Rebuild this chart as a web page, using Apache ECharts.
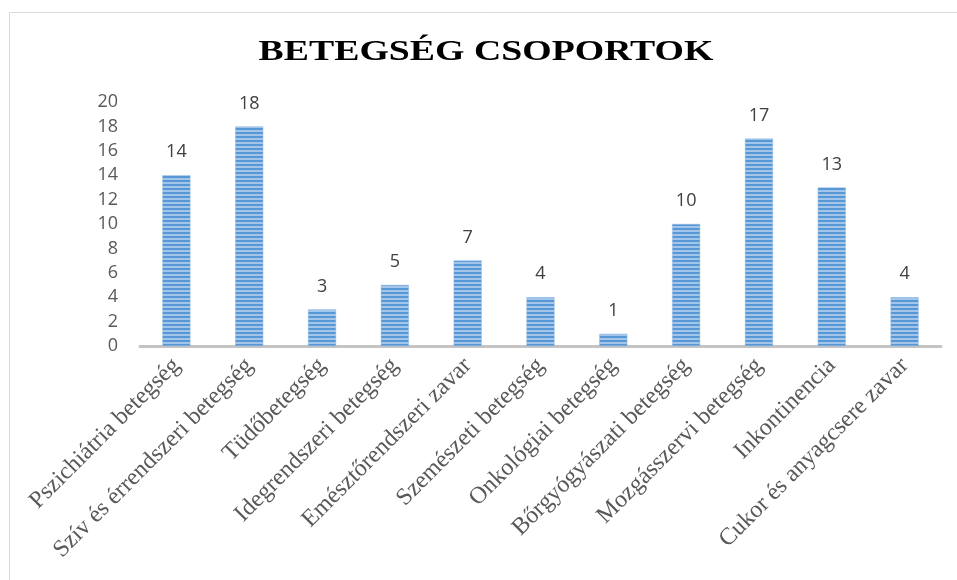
<!DOCTYPE html>
<html>
<head>
<meta charset="utf-8">
<script src="https://cdn.jsdelivr.net/npm/echarts@6/dist/echarts.min.js"></script>
<style>html,body{margin:0;padding:0;background:#fff}#c{width:957px;height:580px}</style>
</head>
<body>
<div id="c"></div>
<script>
const titleText = "BETEGSÉG CSOPORTOK";
const categories = ["Pszichiátria betegség","Szív és érrendszeri betegség","Tüdőbetegség","Idegrendszeri betegség","Emésztőrendszeri zavar","Szemészeti betegség","Onkológiai betegség","Bőrgyógyászati betegség","Mozgásszervi betegség","Inkontinencia","Cukor és anyagcsere zavar"];
const values = [14,18,3,5,7,4,1,10,17,13,4];
const yTicks = {min:0, max:20, interval:2};

const pc = document.createElement('canvas');
pc.width = 4; pc.height = 4;
const g = pc.getContext('2d');
g.fillStyle = '#5797d6'; g.fillRect(0,0,4,2);
g.fillStyle = '#a3c5ea'; g.fillRect(0,2,4,2);

const chart = echarts.init(document.getElementById('c'), null, {renderer:'canvas'});
chart.setOption({
  backgroundColor:'#fff',
  animation:false,
  graphic:[
    {type:'rect', shape:{x:9.5,y:12.5,width:1200,height:1200}, style:{fill:'none', stroke:'#d9d9d9', lineWidth:1}, silent:true},
    {type:'text', x:486, y:52, scaleX:1.26, originX:0, originY:0,
     style:{text:titleText, x:0, y:0, align:'center', verticalAlign:'middle', fontFamily:'Liberation Serif', fontWeight:'bold', fontSize:30, fill:'#000'}, silent:true}
  ],
  grid:{left:140, right:16, top:102, bottom:234},
  xAxis:{
    type:'category', data:categories,
    axisLine:{lineStyle:{color:'#c4c4c4', width:3}},
    axisTick:{show:false},
    axisLabel:{rotate:45, interval:0, margin:16, fontFamily:'Liberation Serif', fontSize:24, color:'#595959'}
  },
  yAxis:{
    type:'value', min:yTicks.min, max:yTicks.max, interval:yTicks.interval,
    axisLine:{show:false}, axisTick:{show:false}, splitLine:{show:false},
    axisLabel:{margin:22, fontFamily:'Open Sans', fontSize:18, color:'#595959'}
  },
  series:[{
    type:'bar', data:values, barWidth:28,
    itemStyle:{color:{image:pc, repeat:'repeat'}, borderColor:'#8db6e3', borderWidth:0.5},
    label:{show:true, position:'top', distance:14, fontFamily:'Open Sans', fontSize:18, color:'#404040'}
  }]
});
</script>
</body>
</html>
